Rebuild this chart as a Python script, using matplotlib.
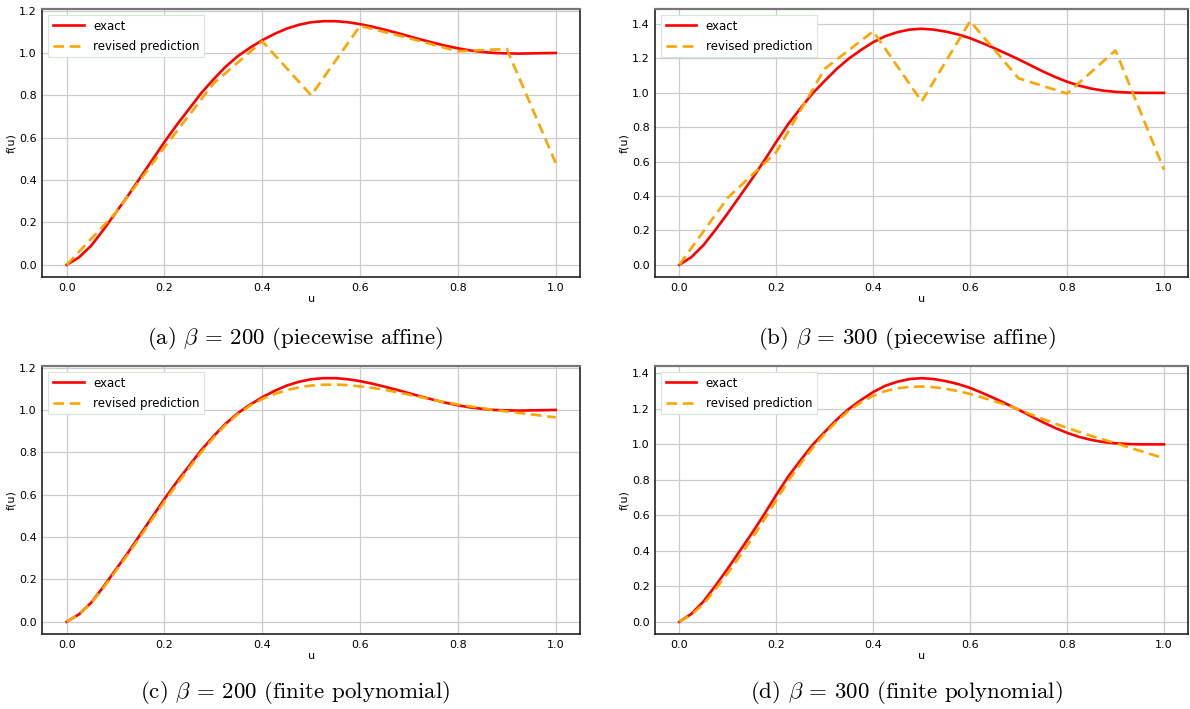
import matplotlib
matplotlib.use("Agg")
import matplotlib.pyplot as plt
import numpy as np

plt.rcParams['mathtext.fontset'] = 'cm'

# sample grid for the smooth curves (step 0.025)
u = np.linspace(0.0, 1.0, 41)
# knots of the piecewise affine predictions
u_knots = np.linspace(0.0, 1.0, 11)

exact_200 = [0.0, 0.035, 0.09, 0.165, 0.245, 0.325, 0.41, 0.495, 0.58, 0.66,
             0.735, 0.81, 0.875, 0.935, 0.985, 1.025, 1.06, 1.09, 1.115, 1.133,
             1.145, 1.15, 1.15, 1.145, 1.136, 1.124, 1.11, 1.095, 1.079, 1.063,
             1.048, 1.034, 1.022, 1.012, 1.005, 1.0, 0.998, 0.997, 0.998, 0.999, 1.0]
exact_300 = [0.0, 0.045, 0.115, 0.205, 0.3, 0.4, 0.5, 0.605, 0.715, 0.82,
             0.91, 0.997, 1.07, 1.14, 1.2, 1.25, 1.295, 1.33, 1.353, 1.368,
             1.373, 1.368, 1.356, 1.34, 1.318, 1.29, 1.26, 1.228, 1.195, 1.16,
             1.125, 1.093, 1.065, 1.042, 1.025, 1.013, 1.006, 1.002, 1.0, 1.0, 1.0]

affine_200 = [0.0, 0.245, 0.555, 0.855, 1.055, 0.80, 1.128, 1.07, 1.008, 1.019, 0.481]
affine_300 = [0.0, 0.39, 0.655, 1.14, 1.358, 0.95, 1.417, 1.085, 0.996, 1.247, 0.553]

poly_200 = [0.0, 0.035, 0.088, 0.16, 0.238, 0.318, 0.4, 0.485, 0.568, 0.648,
            0.725, 0.8, 0.868, 0.93, 0.98, 1.02, 1.052, 1.075, 1.093, 1.107,
            1.115, 1.119, 1.12, 1.117, 1.111, 1.104, 1.095, 1.084, 1.072, 1.06,
            1.047, 1.036, 1.026, 1.017, 1.008, 1.0, 0.993, 0.986, 0.979, 0.972, 0.965]
poly_300 = [0.0, 0.04, 0.1, 0.185, 0.275, 0.37, 0.47, 0.575, 0.685, 0.795,
            0.89, 0.98, 1.06, 1.13, 1.19, 1.237, 1.274, 1.3, 1.316, 1.324,
            1.326, 1.322, 1.313, 1.3, 1.284, 1.264, 1.243, 1.222, 1.197, 1.17,
            1.143, 1.117, 1.093, 1.07, 1.048, 1.027, 1.007, 0.985, 0.964, 0.943, 0.921]

captions = [r"(a) $\beta$ = 200 (piecewise affine)",
            r"(b) $\beta$ = 300 (piecewise affine)",
            r"(c) $\beta$ = 200 (finite polynomial)",
            r"(d) $\beta$ = 300 (finite polynomial)"]

panels = [
    (exact_200, u_knots, affine_200),
    (exact_300, u_knots, affine_300),
    (exact_200, u, poly_200),
    (exact_300, u, poly_300),
]

# axes boxes [left, bottom, width, height] in figure fractions
boxes = [[0.0355, 0.6093, 0.452, 0.378],
         [0.5505, 0.6093, 0.448, 0.378],
         [0.0355, 0.1058, 0.452, 0.378],
         [0.5505, 0.1058, 0.448, 0.378]]
caption_pos = [(0.248, 0.523), (0.762, 0.523), (0.248, 0.0226), (0.762, 0.0226)]

fig = plt.figure(figsize=(11.9, 7.09), dpi=100)

for box, (ex, up, pred), cap, cpos in zip(boxes, panels, captions, caption_pos):
    ax = fig.add_axes(box)
    ax.plot(u, ex, color='red', lw=1.9, label='exact', zorder=3)
    ax.plot(up, pred, color='orange', lw=1.9, ls='--', dashes=(4, 2.2),
            label='revised prediction', zorder=4)
    ax.set_xticks([0.0, 0.2, 0.4, 0.6, 0.8, 1.0])
    ax.grid(True, color='#cccccc', lw=0.9)
    ax.set_axisbelow(True)
    ax.tick_params(length=0, labelsize=8, pad=4)
    ax.set_xlabel('u', fontsize=8, labelpad=1)
    ax.set_ylabel('f(u)', fontsize=8, labelpad=2)
    for side in ['left', 'bottom', 'right']:
        ax.spines[side].set_color('#222222')
        ax.spines[side].set_linewidth(1.2)
    ax.spines['top'].set_color('#777777')
    ax.spines['top'].set_linewidth(1.6)
    leg = ax.legend(loc='upper left', fontsize=8.5, handlelength=2.6,
                    labelspacing=0.6, framealpha=1, fancybox=False,
                    borderaxespad=0.5)
    leg.get_frame().set_edgecolor('#d5e6d5')
    leg.get_frame().set_linewidth(0.8)
    fig.text(cpos[0], cpos[1], cap, ha='center', va='center',
             fontsize=16.5, family='cmr10')

fig.savefig('out.png', dpi=100)
